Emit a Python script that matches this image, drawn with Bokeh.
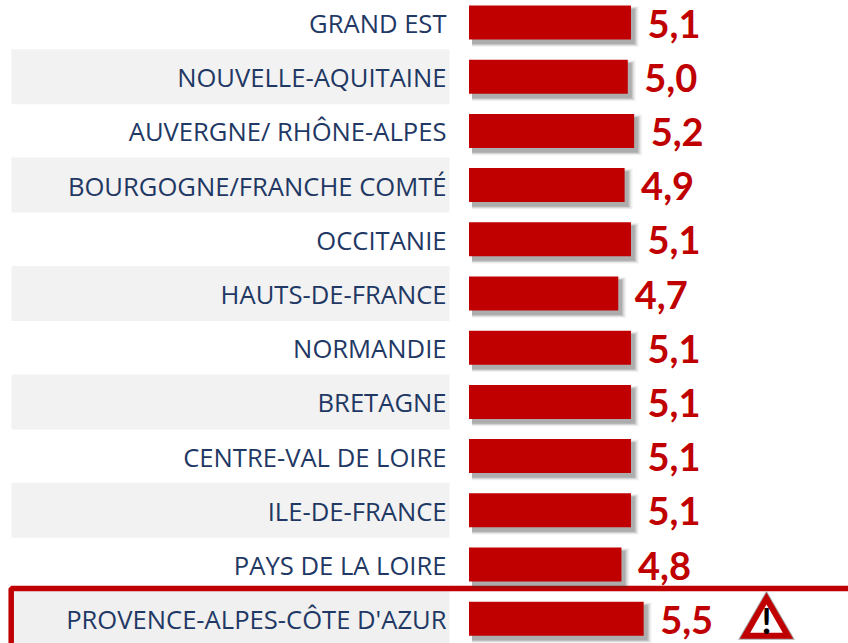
from bokeh.plotting import figure
from bokeh.models import Range1d
from bokeh.core.properties import value
from bokeh.embed import file_html
from bokeh.resources import INLINE

regions = ["GRAND EST", "NOUVELLE-AQUITAINE", "AUVERGNE/ RHÔNE-ALPES", "BOURGOGNE/FRANCHE COMTÉ",
           "OCCITANIE", "HAUTS-DE-FRANCE", "NORMANDIE", "BRETAGNE", "CENTRE-VAL DE LOIRE",
           "ILE-DE-FRANCE", "PAYS DE LA LOIRE", "PROVENCE-ALPES-CÔTE D'AZUR"]
values = [5.1, 5.0, 5.2, 4.9, 5.1, 4.7, 5.1, 5.1, 5.1, 5.1, 4.8, 5.5]
labels = ["5,1", "5,0", "5,2", "4,9", "5,1", "4,7", "5,1", "5,1", "5,1", "5,1", "4,8", "5,5"]

W, H = 848, 643
PX = 31.76          # pixels per unit on x
ROW = 54.2          # pixels per row
X0, Y0 = 468.5, 22  # window position of value 0 / row 0
def ux(px): return (px - X0) / PX
def uy(px): return (px - Y0) / ROW

rows = list(range(len(regions)))
RED, NAVY = "#C00000", "#1F3864"

p = figure(width=W, height=H, output_backend="svg", toolbar_location=None,
           x_range=Range1d(ux(0), ux(W)), y_range=Range1d(uy(H), uy(0)),
           min_border=0, outline_line_color=None, background_fill_color="white")
p.axis.visible = False
p.grid.visible = False

# alternating bands
band = [r for r in rows if r % 2 == 1 and r != 11]
p.hbar(y=band, left=ux(11), right=ux(449), height=55 / ROW, fill_color="#F2F2F2", line_color=None)

# highlighted row
p.quad(left=[ux(11)], right=[ux(449)], top=[uy(588)], bottom=[uy(660)], fill_color="#F0F0F0", line_color=None)
p.quad(left=[ux(10.7)], right=[ux(870)], top=[uy(588)], bottom=[uy(670)], fill_color=None,
       line_color=RED, line_width=5.5)

# soft shadows
for grow, alpha in [(7, .03), (6, .04), (5, .05), (4, .07), (3, .09), (2, .11), (1, .13)]:
    p.hbar(y=[r + 4 / ROW for r in rows], left=[ux(X0 + 3)] * 12,
           right=[v + (3 + grow * .75) / PX for v in values], height=(34 + grow) / ROW,
           fill_color="#404040", fill_alpha=alpha, line_color=None)

# bars
p.hbar(y=rows, left=0, right=values, height=34 / ROW, fill_color=RED, line_color=None)

# category labels
p.text(x=[ux(446)] * 12, y=rows, text=regions, text_font=value("Open Sans"), text_font_size="25.6px",
       text_color=NAVY, text_align="right", text_baseline="middle", y_offset=1)

# value labels
p.text(x=values, y=rows, text=labels, text_font=value("Lato"), text_font_size="38px",
       text_font_style="bold", text_color=RED, text_align="left", text_baseline="middle",
       x_offset=16.5, y_offset=1)

# warning sign
p.scatter(x=[ux(766)], y=[uy(622.8)], marker="triangle", size=43, fill_color=None,
          line_color="#A8A8A8", line_width=8, line_join="miter")
p.scatter(x=[ux(766)], y=[uy(622.8)], marker="triangle", size=43, fill_color="white",
          line_color=RED, line_width=6, line_join="miter")
p.text(x=[ux(766)], y=[uy(619.5)], text=["!"], text_font=value("Lato"), text_font_size="36px",
       text_font_style="bold", text_color="black", text_align="center", text_baseline="middle")

open("out.html", "w").write(file_html(p, INLINE))
